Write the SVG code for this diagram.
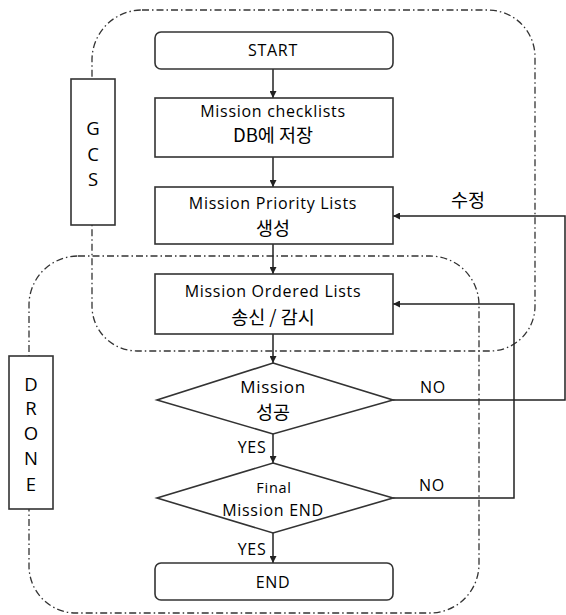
<svg xmlns="http://www.w3.org/2000/svg" width="566" height="615" viewBox="0 0 566 615">
<style>
.region{fill:none;stroke:#333;stroke-width:1.3;stroke-dasharray:7 3 1.5 3}
.box{fill:#fff;stroke:#333;stroke-width:1.6}
.lbl{fill:#fff;stroke:#333;stroke-width:1.6}
.t{font-family:"Open Sans","Noto Sans CJK KR",sans-serif;font-size:16px;letter-spacing:0.7px;fill:#000;text-anchor:middle}
.k{font-family:"Noto Sans CJK KR","Open Sans",sans-serif;font-size:18.5px;letter-spacing:0}
.s{font-size:14.5px}
.m{font-size:17px}
.big{font-size:18.5px;letter-spacing:0}
.conn{fill:none;stroke:#222;stroke-width:1.5}
</style>
<defs>
<marker id="arr" viewBox="0 0 10 10" refX="10" refY="5" markerWidth="7" markerHeight="7" markerUnits="userSpaceOnUse" orient="auto">
<path d="M0,0 L10,5 L0,10 z" fill="#222"/>
</marker>
</defs>

<g id="region-gcs">
<path class="region" d="M142,10 H488 A47,47 0 0 1 535,57 V306 A45,45 0 0 1 490,351 H137 A45,45 0 0 1 92,306 V60 A50,50 0 0 1 142,10 Z"/>
<rect class="lbl" x="71" y="79" width="44" height="146"/>
<text class="t big" x="93" y="135">G</text>
<text class="t big" x="93" y="161">C</text>
<text class="t big" x="93" y="186">S</text>
</g>

<g id="region-drone">
<path class="region" d="M78,256 H430 A49,49 0 0 1 479,305 V564 A49,49 0 0 1 430,613 H76 A47,47 0 0 1 29,566 V305 A49,49 0 0 1 78,256 Z"/>
<rect class="lbl" x="9" y="356" width="44" height="153"/>
<text class="t big" x="31" y="391">D</text>
<text class="t big" x="31" y="415">R</text>
<text class="t big" x="31" y="440">O</text>
<text class="t big" x="31" y="465">N</text>
<text class="t big" x="31" y="491">E</text>
</g>

<g id="connectors">
<line class="conn" x1="273" y1="69" x2="273" y2="98" marker-end="url(#arr)"/>
<line class="conn" x1="273" y1="157" x2="273" y2="187" marker-end="url(#arr)"/>
<line class="conn" x1="273" y1="244" x2="273" y2="274" marker-end="url(#arr)"/>
<line class="conn" x1="273" y1="334" x2="273" y2="363" marker-end="url(#arr)"/>
<line class="conn" x1="273" y1="434" x2="273" y2="463" marker-end="url(#arr)"/>
<line class="conn" x1="273" y1="533" x2="273" y2="563" marker-end="url(#arr)"/>
<polyline class="conn" points="393,400 565,400 565,216 393,216" marker-end="url(#arr)"/>
<polyline class="conn" points="393,498 514,498 514,304 393,304" marker-end="url(#arr)"/>
<text class="t" x="252" y="453">YES</text>
<text class="t" x="252" y="555">YES</text>
<text class="t" x="433" y="393">NO</text>
<text class="t" x="432" y="491">NO</text>
<text class="t k" x="468" y="207">수정</text>
</g>

<g id="start">
<rect class="box" x="155" y="32" width="238" height="37" rx="6"/>
<text class="t" x="273" y="56">START</text>
</g>

<g id="checklists">
<rect class="box" x="155" y="98" width="238" height="59"/>
<text class="t" x="273" y="117">Mission checklists</text>
<text class="t k" x="273" y="142">DB에 저장</text>
</g>

<g id="priority">
<rect class="box" x="155" y="187" width="238" height="57"/>
<text class="t" x="273" y="209">Mission Priority Lists</text>
<text class="t k" x="273" y="235">생성</text>
</g>

<g id="ordered">
<rect class="box" x="155" y="274" width="238" height="60"/>
<text class="t" x="273" y="297">Mission Ordered Lists</text>
<text class="t k" x="273" y="324">송신 / 감시</text>
</g>

<g id="success">
<polygon class="box" points="273,363 393,400 273,434 157,400"/>
<text class="t m" x="273" y="393">Mission</text>
<text class="t k" x="273" y="419">성공</text>
</g>

<g id="final">
<polygon class="box" points="273,463 393,498 273,533 157,498"/>
<text class="t s" x="274" y="493">Final</text>
<text class="t" x="273" y="516">Mission END</text>
</g>

<g id="end">
<rect class="box" x="155" y="563" width="238" height="37" rx="6"/>
<text class="t" x="273" y="588">END</text>
</g>
</svg>
